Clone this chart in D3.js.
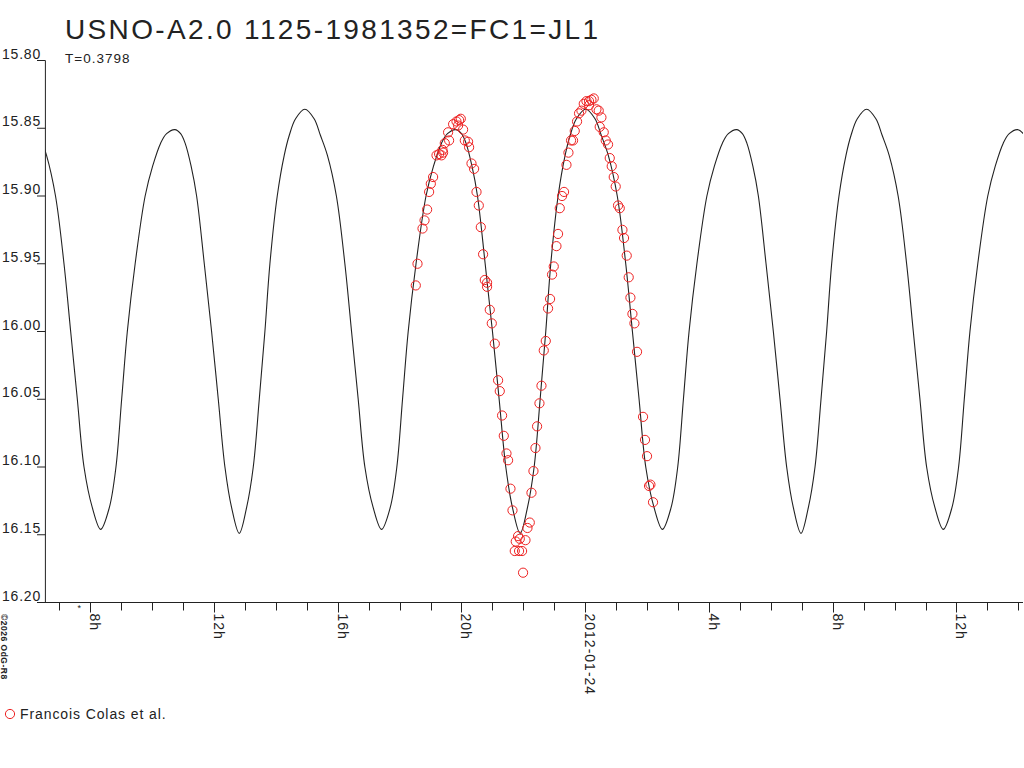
<!DOCTYPE html>
<html><head><meta charset="utf-8">
<script src="https://cdn.jsdelivr.net/npm/d3@7"></script>
<style>
html,body{margin:0;padding:0;background:#fff;}
svg{display:block;font-family:"Liberation Sans",Arial,sans-serif;}
</style></head>
<body>
<svg id="chart" width="1024" height="768"></svg>
<script>
// ---- DATA ----
const title = "USNO-A2.0 1125-1981352=FC1=JL1";
const subtitle = "T=0.3798";
const legendLabel = "Francois Colas et al.";
const credit = "\u00A92026 OdG-R8";
const dateLabel = "2012-01-24";
const refDate = Date.UTC(2012, 0, 24); // hours below are relative to 2012-01-24 00:00 UT
const xDomainHours = [-17.45, 14.15];
const yDomain = [15.80, 16.20];
const yTicks = [15.80, 15.85, 15.90, 15.95, 16.00, 16.05, 16.10, 16.15, 16.20];

// fitted light curve (hours, magnitude)
const curveT = [
 -17.843, -17.643, -17.413, -17.123, -16.849, -16.633, -16.418, -16.202, -15.933,
 -15.664, -15.384, -15.169, -14.985, -14.802, -14.549, -14.226, -13.984, -13.725, -13.532, -13.263, -13.079, -12.934, -12.740, -12.562, -12.314, -12.078, -11.862, -11.647, -11.431,
 -11.184, -10.947, -10.731, -10.537, -10.355, -10.193, -9.956, -9.730, -9.564, -9.364, -9.064, -8.764, -8.564, -8.334, -8.044, -7.770, -7.554, -7.339, -7.123, -6.854,
 -6.585, -6.305, -6.090, -5.906, -5.723, -5.470, -5.147, -4.905, -4.646, -4.453, -4.184, -4.000, -3.855, -3.661, -3.483, -3.235, -2.999, -2.783, -2.568, -2.352,
 -2.105, -1.868, -1.652, -1.458, -1.276, -1.114, -0.877, -0.651, -0.485, -0.285, 0.015, 0.315, 0.515, 0.745, 1.035, 1.309, 1.525, 1.740, 1.956, 2.225,
 2.494, 2.774, 2.989, 3.173, 3.356, 3.609, 3.932, 4.174, 4.433, 4.626, 4.895, 5.079, 5.224, 5.418, 5.596, 5.844, 6.080, 6.296, 6.511, 6.727,
 6.974, 7.211, 7.427, 7.621, 7.803, 7.965, 8.202, 8.428, 8.594, 8.794, 9.094, 9.394, 9.594, 9.824, 10.114, 10.388, 10.604, 10.819, 11.035, 11.304,
 11.573, 11.853, 12.068, 12.252, 12.435, 12.688, 13.011, 13.253, 13.512, 13.705, 13.974, 14.158, 14.303, 14.497, 14.675];
const curveMag = [
 15.843, 15.855, 15.87, 15.90, 15.95, 16.00, 16.05, 16.10, 16.13,
 16.146, 16.13, 16.10, 16.05, 16.00, 15.95, 15.90, 15.878, 15.861, 15.854, 15.851, 15.854, 15.861, 15.878, 15.90, 15.95, 16.00, 16.05, 16.10, 16.13,
 16.149, 16.13, 16.10, 16.05, 16.00, 15.95, 15.90, 15.87, 15.855, 15.843, 15.836, 15.843, 15.855, 15.87, 15.90, 15.95, 16.00, 16.05, 16.10, 16.13,
 16.146, 16.13, 16.10, 16.05, 16.00, 15.95, 15.90, 15.878, 15.861, 15.854, 15.851, 15.854, 15.861, 15.878, 15.90, 15.95, 16.00, 16.05, 16.10, 16.13,
 16.149, 16.13, 16.10, 16.05, 16.00, 15.95, 15.90, 15.87, 15.855, 15.843, 15.836, 15.843, 15.855, 15.87, 15.90, 15.95, 16.00, 16.05, 16.10, 16.13,
 16.146, 16.13, 16.10, 16.05, 16.00, 15.95, 15.90, 15.878, 15.861, 15.854, 15.851, 15.854, 15.861, 15.878, 15.90, 15.95, 16.00, 16.05, 16.10, 16.13,
 16.149, 16.13, 16.10, 16.05, 16.00, 15.95, 15.90, 15.87, 15.855, 15.843, 15.836, 15.843, 15.855, 15.87, 15.90, 15.95, 16.00, 16.05, 16.10, 16.13,
 16.146, 16.13, 16.10, 16.05, 16.00, 15.95, 15.90, 15.878, 15.861, 15.854, 15.851, 15.854, 15.861, 15.878, 15.90];

// observations (hours, magnitude)
const obsT = [
 -5.477, -5.422, -5.260, -5.195, -5.111, -5.047, -4.992, -4.918, -4.808, -4.724, -4.646, -4.595, -4.614, -4.540, -4.401, -4.433, -4.271, -4.162, -4.078, -4.023, -4.110, -3.948, -3.893, -3.787, -3.754, -3.677, -3.593, -3.515, -3.441, -3.376, -3.302, -3.247, -3.173, -3.173, -3.086, -3.021,
 -2.924, -2.817, -2.763, -2.688, -2.633, -2.546, -2.494, -2.417, -2.352, -2.171, -2.246, -2.116, -1.932, -2.278, -2.139, -2.042, -2.010, -1.868, -1.793, -1.738, -1.674, -1.609, -1.557, -1.480, -1.415, -1.341, -1.276,
 -1.202, -1.137, -1.073, -1.018, -0.931, -0.879, -0.824, -0.750, -0.685, -0.607, -0.543, -0.459, -0.394, -0.339, -0.265, -0.200, -0.123, -0.048, 0.039, 0.123, 0.200, 0.275, 0.123, 0.362, 0.436, 0.523, 0.468,
 0.598, 0.662, 0.737, 0.792, 0.856, 0.921, 0.985, 1.060, 1.115, 1.202, 1.254, 1.341, 1.405, 1.460, 1.525, 1.590, 1.674, 1.868, 1.932, 1.997, 2.107, 2.062, 2.191];
const obsMag = [
 15.966, 15.950, 15.924, 15.918, 15.910, 15.897, 15.891, 15.886, 15.870, 15.869, 15.870, 15.868, 15.866, 15.861, 15.859, 15.853, 15.847, 15.845, 15.844, 15.843, 15.848, 15.851, 15.859, 15.860, 15.864, 15.876, 15.880, 15.897, 15.907, 15.923, 15.943, 15.962, 15.964, 15.967, 15.984, 15.994,
 16.009, 16.036, 16.044, 16.062, 16.077, 16.090, 16.095, 16.116, 16.132, 16.151, 16.155, 16.153, 16.154, 16.162, 16.162, 16.162, 16.178, 16.145, 16.141, 16.119, 16.103, 16.086, 16.070, 16.053, 16.040, 16.014, 16.007,
 15.983, 15.976, 15.958, 15.952, 15.937, 15.928, 15.909, 15.900, 15.897, 15.877, 15.868, 15.859, 15.859, 15.852, 15.845, 15.839, 15.837, 15.832, 15.830, 15.830, 15.829, 15.828, 15.833, 15.836, 15.837, 15.842, 15.849,
 15.853, 15.859, 15.862, 15.872, 15.878, 15.886, 15.893, 15.907, 15.909, 15.925, 15.931, 15.944, 15.960, 15.975, 15.987, 15.994, 16.015, 16.063, 16.080, 16.092, 16.113, 16.114, 16.126];

// ---- CHART ----
const svg = d3.select("#chart");
const H = 3600 * 1000;
const toDate = h => new Date(refDate + h * H);
const x = d3.scaleUtc().domain(xDomainHours.map(toDate)).range([45.4, 1023]);
const y = d3.scaleLinear().domain(yDomain).range([60.5, 602.5]);
const ink = "#222";
const red = "#ee2222";

// title
svg.append("text").attr("x", 65).attr("y", 39).attr("font-size", 28).attr("letter-spacing", 2.35)
  .attr("fill", ink).text(title);
svg.append("text").attr("x", 65).attr("y", 63).attr("font-size", 13.5).attr("letter-spacing", 1)
  .attr("fill", ink).text(subtitle);

// clip for curve
svg.append("clipPath").attr("id", "plotclip").append("rect")
  .attr("x", x.range()[0]).attr("y", 0).attr("width", x.range()[1] - x.range()[0]).attr("height", 768);

// Y axis
const gy = svg.append("g");
gy.append("line").attr("x1", x.range()[0]).attr("x2", x.range()[0])
  .attr("y1", y(yDomain[0])).attr("y2", y(yDomain[1])).attr("stroke", ink);
yTicks.forEach(v => {
  gy.append("line").attr("x1", 37).attr("x2", x.range()[0]).attr("y1", y(v)).attr("y2", y(v)).attr("stroke", ink);
  gy.append("text").attr("x", 41).attr("y", y(v) - 2).attr("text-anchor", "end")
    .attr("font-size", 14).attr("letter-spacing", 0.8).attr("fill", ink).text(d3.format(".2f")(v));
});

// X axis
const gx = svg.append("g");
gx.append("line").attr("x1", 37).attr("x2", x.range()[1]).attr("y1", y(yDomain[1])).attr("y2", y(yDomain[1])).attr("stroke", ink);
const hourTicks = x.ticks(d3.utcHour.every(1));
hourTicks.forEach(d => {
  const hr = d.getUTCHours();
  const major = hr % 4 === 0;
  const px = Math.round(x(d)) + 0.5;
  gx.append("line").attr("x1", px).attr("x2", px).attr("y1", y(yDomain[1]))
    .attr("y2", y(yDomain[1]) + (major ? 10 : 8)).attr("stroke", ink);
  if (major) {
    const lab = hr === 0 ? dateLabel : hr + "h";
    gx.append("text").attr("transform", `translate(${px - 1},${y(yDomain[1]) + 11}) rotate(90)`)
      .attr("font-size", 14).attr("letter-spacing", 1).attr("fill", ink).text(lab);
  }
});
svg.append("text").attr("x", 77.5).attr("y", 611).attr("font-size", 9).attr("fill", ink).text("*");

// credit
svg.append("text").attr("transform", "translate(1,614) rotate(90)").attr("font-size", 8.5)
  .attr("font-weight", "bold").attr("letter-spacing", 0.5).attr("fill", ink).text(credit);

// curve
const line = d3.line().x(d => x(toDate(d[0]))).y(d => y(d[1])).curve(d3.curveCatmullRom.alpha(0.5));
svg.append("path").datum(d3.zip(curveT, curveMag)).attr("d", line)
  .attr("fill", "none").attr("stroke", ink).attr("stroke-width", 1.1).attr("clip-path", "url(#plotclip)");

// observations
svg.append("g").selectAll("circle").data(d3.zip(obsT, obsMag)).join("circle")
  .attr("cx", d => x(toDate(d[0]))).attr("cy", d => y(d[1])).attr("r", 4.6)
  .attr("fill", "none").attr("stroke", red).attr("stroke-width", 1);

// legend
svg.append("circle").attr("cx", 10).attr("cy", 714).attr("r", 4.6).attr("fill", "none").attr("stroke", red);
svg.append("text").attr("x", 20).attr("y", 719).attr("font-size", 14).attr("letter-spacing", 0.9)
  .attr("fill", ink).text(legendLabel);
</script>
</body></html>
